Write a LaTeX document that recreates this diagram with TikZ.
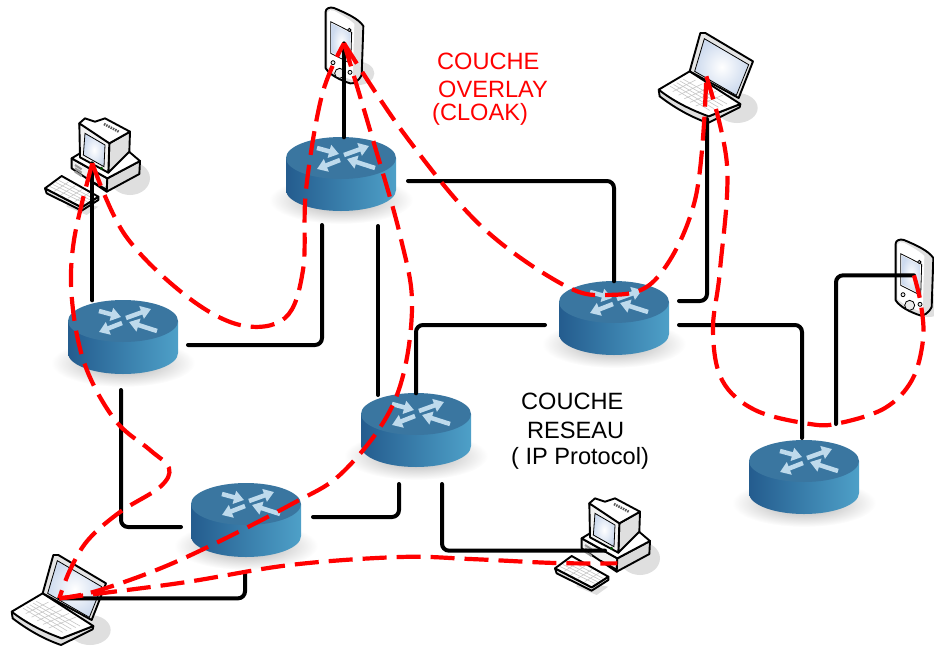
\documentclass[tikz,border=0pt]{standalone}
\usepackage{fontspec}
\setmainfont{Liberation Sans}
\usetikzlibrary{arrows.meta,calc}
\definecolor{routertop}{RGB}{58,118,160}
\definecolor{routerleft}{RGB}{36,92,142}
\definecolor{routerright}{RGB}{78,160,200}
\definecolor{routerarrow}{RGB}{190,218,236}
\definecolor{screenblue}{RGB}{205,218,238}
\tikzset{
  netline/.style={line width=4pt,rounded corners=7pt,line cap=round},
  overlayline/.style={red,line width=4.2pt,dash pattern=on 24pt off 10pt},
  layertext/.style={font=\fontsize{23.6}{26}\selectfont,anchor=west,inner sep=0pt},
  devline/.style={line width=1.9pt,line join=round},
  routerarrowline/.style={routerarrow,line width=4.5pt,-{Triangle[length=10pt,width=13pt]}},
  pics/router/.style={code={
    \node[minimum width=110pt,minimum height=73pt,inner sep=0pt] (-box) at (0,16) {};
    \shade[inner color=gray!70,outer color=white] (0,42) ellipse (72 and 24);
    \path[left color=routerleft,right color=routerright] (-55,0) -- (-55,32)
      arc[start angle=180,end angle=0,x radius=55,y radius=21] -- (55,0) -- cycle;
    \fill[routertop] (0,0) ellipse (55 and 21);
    \draw[routerarrowline] (-24,-10) -- (-2,-4);
    \draw[routerarrowline] (3,-3) -- (28,-12);
    \draw[routerarrowline] (-1,2) -- (-24,11);
    \draw[routerarrowline] (34,10) -- (6,1);
  }},
  pics/laptop/.style={code={
    \begin{scope}[scale=1/3]
      \fill[gray!25] (270,300) ellipse (62 and 45);
      \draw[devline,fill=gray!25] (35,245) -- (38,265) .. controls (90,305) and (140,330) .. (183,345)
        -- (278,298) -- (280,288) -- (185,325) -- cycle;
      \draw[devline,fill=white] (35,245) -- (128,190) -- (280,288) -- (185,325)
        .. controls (130,305) and (80,280) .. (35,245);
      \foreach \t in {0.15,0.3,...,0.9}{
        \draw[gray!45,line width=.6pt] ($(60,240)!\t!(125,205)$) -- ($(175,312)!\t!(262,280)$);
        \draw[gray!45,line width=.6pt] ($(60,240)!\t!(175,312)$) -- ($(125,205)!\t!(262,280)$);
      }
      \draw[devline,fill=gray!20] (128,190) -- (160,75) -- (175,75) -- (318,160) -- (275,270) -- cycle;
      \shade[draw,line width=.8pt,inner color=white,outer color=screenblue] (172,92) -- (305,170) -- (268,262) -- (143,190) -- cycle;
      \coordinate (-port) at (178,205);
    \end{scope}
  }},
  pics/desktop/.style={code={
    \begin{scope}[scale=1/3]
      \fill[gray!25] (300,235) ellipse (60 and 50);
      \draw[devline,fill=gray!12] (125,175) -- (232,235) -- (230,275) -- (125,205) -- cycle;
      \draw[devline,fill=gray!30] (232,235) -- (330,183) -- (328,222) -- (230,275) -- cycle;
      \draw[devline,fill=white] (125,175) -- (150,160) -- (297,155) -- (330,183) -- (232,235) -- cycle;
      \draw[gray!80,line width=2pt] (135,195) -- (155,208) (135,205) -- (155,218) (135,215) -- (155,228);
      \draw[black,line width=2pt] (182,243) -- (228,268);
      \draw[devline,fill=gray!25] (238,130) -- (300,95) -- (298,155) -- (235,218) -- cycle;
      \draw[devline,fill=white] (148,70) -- (165,55) -- (195,65) -- (225,55) -- (300,95) -- (238,130) -- (152,85) -- cycle;
      \draw[gray!70!black,line width=2.5pt,dash pattern=on 1.5pt off 1pt] (222,72) -- (268,96);
      \draw[devline,fill=gray!10] (148,70) -- (238,130) -- (235,218) -- (150,172) -- cycle;
      \shade[draw,line width=.8pt,inner color=white,outer color=screenblue] (165,100) -- (225,135) -- (222,200) -- (160,165) -- cycle;
      \fill[green!30!black] (215,205) circle (5);
      \fill[gray!25] (110,305) -- (205,320) -- (170,345) -- (110,320) -- cycle;
      \draw[devline,fill=gray!25] (45,265) -- (50,280) -- (155,332) -- (205,300) -- (205,290) -- (155,322) -- cycle;
      \draw[devline,fill=white] (45,265) -- (95,228) -- (205,290) -- (155,322) -- cycle;
      \foreach \t in {0.2,0.4,0.6,0.8}{
        \draw[gray!45,line width=.6pt] ($(50,265)!\t!(95,235)$) -- ($(155,315)!\t!(198,290)$);
        \draw[gray!45,line width=.6pt] ($(50,265)!\t!(155,315)$) -- ($(95,235)!\t!(198,290)$);
      }
      \coordinate (-port) at (187,190);
      \coordinate (-wire) at (195,212);
      \coordinate (-base) at (232,250);
    \end{scope}
  }},
  pics/pda/.style={code={
    \begin{scope}[scale=1/3]
      \fill[gray!25] (295,220) ellipse (48 and 35);
      \draw[devline,fill=gray!25] (197,35) .. controls (197,25) and (210,20) .. (222,24)
        .. controls (255,38) and (295,55) .. (310,78) -- (305,225) .. controls (295,245) and (280,252) .. (270,250)
        .. controls (240,240) and (210,225) .. (197,205) -- cycle;
      \path[fill=white] (202,38) .. controls (205,30) and (215,28) .. (222,32)
        .. controls (245,45) and (265,55) .. (283,72) -- (278,240) .. controls (250,232) and (215,215) .. (202,200) -- cycle;
      \draw[line width=.8pt] (212,65) -- (275,97) -- (272,190) -- (212,160) -- cycle;
      \shade[inner color=white,outer color=screenblue] (215,70) -- (272,100) -- (269,185) -- (215,157) -- cycle;
      \draw[line width=.8pt,fill=gray!40] (268,90) circle (5);
      \draw[line width=.8pt,fill=gray!15] (219,188) circle (6);
      \draw[line width=.8pt,fill=gray!15] (239,220) circle (15);
      \draw[line width=.8pt,fill=gray!15] (270,217) circle (6);
      \coordinate (-port) at (252,130);
    \end{scope}
  }}
}
\begin{document}
\begin{tikzpicture}[x=1pt,y=-1pt]
  \useasboundingbox (0,0) rectangle (934,646);
  % routers
  \pic (rtop) at (341,158) {router};
  \pic (rleft) at (123,321) {router};
  \pic (rcentre) at (614,302) {router};
  \pic (rmid) at (416,414) {router};
  \pic (rlow) at (246,504) {router};
  \pic (rright) at (804,461) {router};
  % machines
  \pic (pdatop) at (260,0) {pda};
  \pic (pdaright) at (830,232) {pda};
  \pic (laplow) at (0,530) {laptop};
  \pic (laptop) at (647,8) {laptop};
  \pic (pcleft) at (30,100) {desktop};
  \pic (pclow) at (540,480) {desktop};
  % free ends of the network lines
  \coordinate (rtope) at (408,181);
  \coordinate (rtops) at (322,225);
  \coordinate (rtopt) at (378,226);
  \coordinate (rlefte) at (188,345);
  \coordinate (rleftb) at (121,390);
  \coordinate (rcentrew) at (545,325);
  \coordinate (rcentrea) at (679,301);
  \coordinate (rcentreb) at (679,325);
  \coordinate (rmidw) at (378,395);
  \coordinate (rmidb) at (399,484);
  \coordinate (rmidc) at (442,484);
  \coordinate (rlowa) at (181,527);
  \coordinate (rlowb) at (313,517);
  \coordinate (rlowc) at (245,574);
  \coordinate (rrighta) at (802,438);
  \coordinate (rrightb) at (836,424);
  \coordinate (laptoplow) at (707,119);
  % network layer
  \draw[netline] (pdatop-port) -- (pdatop-port |- rtop-box.north);
  \draw[netline] (rtope) -| (rcentre-box.north);
  \draw[netline] (rtops) |- (rlefte);
  \draw[netline] (rtopt) -- (rmidw);
  \draw[netline] (rcentrew) -| (rmid-box.north);
  \draw[netline] (rcentrea) -| (laptoplow);
  \draw[netline] (rcentreb) -| (rrighta);
  \draw[netline] (rrightb) |- (pdaright-port);
  \draw[netline] (pcleft-port) -- (pcleft-port |- rleft-box.north);
  \draw[netline] (rleftb) |- (rlowa);
  \draw[netline] (rlowb) -| (rmidb);
  \draw[netline] (rmidc) |- (pclow-wire);
  \draw[netline] (rlowc) |- (laplow-port);
  % overlay layer
  \draw[overlayline] plot[smooth,tension=.6] coordinates {(pcleft-port) (74,240) (72,300) (85,365) (115,420) (150,450) (169,468) (160,487) (120,512) (88,540) (70,570) (laplow-port)};
  \draw[overlayline] plot[smooth,tension=.6] coordinates {(pcleft-port) (125,235) (185,295) (240,325) (285,318) (303,270) (306,190) (322,95) (pdatop-port)};
  \draw[overlayline] plot[smooth,tension=.6] coordinates {(pdatop-port) (370,130) (400,235) (412,310) (395,400) (345,470) (290,505) (180,560) (100,590) (laplow-port)};
  \draw[overlayline] plot[smooth,tension=.6] coordinates {(pdatop-port) (405,135) (480,225) (560,283) (605,295) (655,280) (695,200) (laptop-port)};
  \draw[overlayline] plot[smooth,tension=.6] coordinates {(laptop-port) (727,165) (720,270) (713,330) (722,380) (755,410) (810,424) (840,423) (885,408) (912,380) (923,340) (921,305) (pdaright-port)};
  \draw[overlayline] plot[smooth,tension=.6] coordinates {(laplow-port) (180,583) (290,565) (400,557) (470,559) (555,563) (pclow-base)};
  % labels
  \node[layertext,red] (overlaya) at (437,61) {COUCHE};
  \node[layertext,red] (overlayb) at (438,89) {OVERLAY};
  \node[layertext,red] (overlayc) at (432,114) {(CLOAK)};
  \node[layertext] (reseaua) at (521,401) {COUCHE};
  \node[layertext] (reseaub) at (527,430) {RESEAU};
  \node[layertext] (reseauc) at (511,458) {( IP Protocol)};
\end{tikzpicture}
\end{document}
